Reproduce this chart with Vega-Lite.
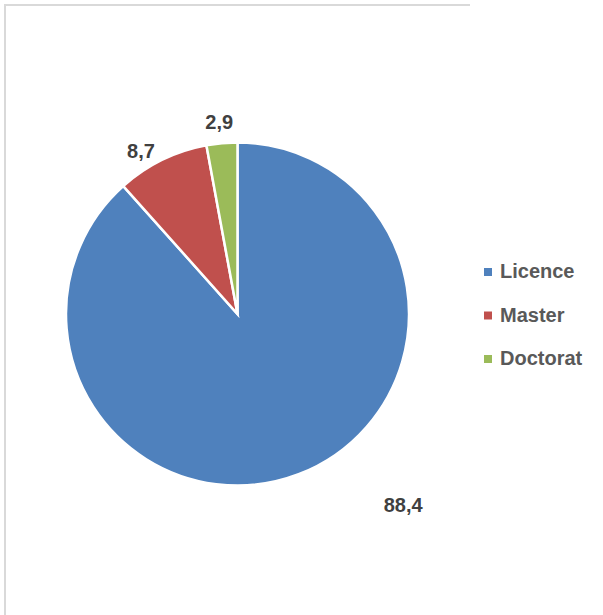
{
  "$schema": "https://vega.github.io/schema/vega-lite/v6.json",
  "width": 465,
  "height": 618,
  "autosize": {"type": "none"},
  "padding": {"left": 5, "top": 5, "right": 133, "bottom": 0},
  "background": "white",
  "view": {"stroke": "#D9D9D9", "strokeWidth": 2, "strokeDash": [465, 1083, 618]},
  "title": {
    "text": "Graphique n°3 : Répartition (%) des étudiants par cycle",
    "anchor": "start",
    "font": "Liberation Sans",
    "fontSize": 20,
    "fontWeight": "bold",
    "color": "#4F81BD",
    "baseline": "alphabetic",
    "offset": 1
  },
  "data": {
    "values": [
      {"cycle": "Licence", "value": 88.4, "label": "88,4"},
      {"cycle": "Master", "value": 8.7, "label": "8,7"},
      {"cycle": "Doctorat", "value": 2.9, "label": "2,9"}
    ]
  },
  "encoding": {
    "theta": {"field": "value", "type": "quantitative", "stack": true},
    "order": {"field": "value", "type": "quantitative", "sort": "descending"}
  },
  "layer": [
    {
      "mark": {"type": "arc", "outerRadius": 171.5, "stroke": "white", "strokeWidth": 2.5},
      "encoding": {
        "color": {
          "field": "cycle",
          "type": "nominal",
          "sort": null,
          "scale": {"domain": ["Licence", "Master", "Doctorat"], "range": ["#4F81BD", "#C0504D", "#9BBB59"]},
          "legend": {"title": null, "orient": "none", "legendX": 473, "legendY": 257}
        }
      }
    },
    {
      "mark": {"type": "text", "radius": 190, "dx": 98, "dy": 14, "font": "Liberation Sans", "fontSize": 20, "fontWeight": "bold", "fill": "#404040"},
      "encoding": {
        "detail": {"field": "cycle"},
        "text": {"condition": {"test": "datum.cycle !== 'Licence'", "value": ""}, "field": "label"}
      }
    },
    {
      "mark": {"type": "text", "radius": 190, "dx": -13, "dy": 9, "font": "Liberation Sans", "fontSize": 20, "fontWeight": "bold", "fill": "#404040"},
      "encoding": {
        "detail": {"field": "cycle"},
        "text": {"condition": {"test": "datum.cycle !== 'Master'", "value": ""}, "field": "label"}
      }
    },
    {
      "mark": {"type": "text", "radius": 190, "dx": -1, "dy": -2, "font": "Liberation Sans", "fontSize": 20, "fontWeight": "bold", "fill": "#404040"},
      "encoding": {
        "detail": {"field": "cycle"},
        "text": {"condition": {"test": "datum.cycle !== 'Doctorat'", "value": ""}, "field": "label"}
      }
    }
  ],
  "config": {
    "legend": {
      "symbolType": "square",
      "symbolSize": 64,
      "symbolStrokeWidth": 0,
      "labelFont": "Liberation Sans",
      "labelFontSize": 20,
      "labelFontWeight": "bold",
      "labelColor": "#595959",
      "labelOffset": 2,
      "rowPadding": 23.5,
      "padding": 0
    }
  }
}
